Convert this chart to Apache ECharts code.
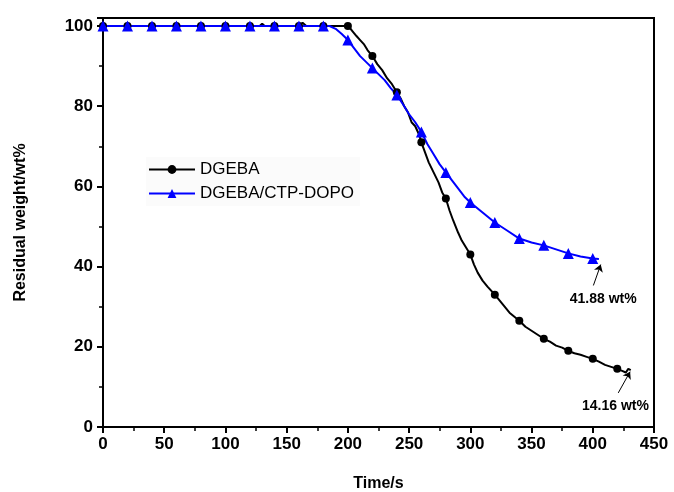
<!DOCTYPE html>
<html>
<head>
<meta charset="utf-8">
<script src="https://cdn.jsdelivr.net/npm/echarts@6/dist/echarts.min.js"></script>
<style>
html,body{margin:0;padding:0;background:#fff;}
#chart{width:674px;height:492px;}
</style>
</head>
<body>
<div id="chart"></div>
<script>
// ---- Data ----
var seriesNames = ['DGEBA', 'DGEBA/CTP-DOPO'];

var dgebaX = [0, 20, 40, 60, 80, 100, 120, 128, 130, 132, 140, 160, 163, 166, 180, 200, 203, 207, 210, 213, 216, 220, 224, 228, 232, 236, 240, 243, 246, 249, 252, 255, 258, 260, 263, 266, 270, 274, 277, 280, 283, 286, 290, 293, 297, 300, 303, 306, 310, 314, 317, 320, 324, 328, 332, 336, 340, 345, 350, 355, 360, 365, 370, 375, 380, 385, 390, 395, 400, 405, 410, 415, 420, 424, 427, 429, 431];
var dgebaY = [100, 100, 100, 100, 100, 100, 100, 100, 100.6, 100, 100, 100, 100.8, 100, 100, 100, 99, 97.5, 96.5, 95.5, 94, 92.5, 90.5, 89, 87, 85.5, 83.5, 82, 80, 78.5, 76, 75, 73, 71, 68.5, 66, 63.5, 61, 58.5, 57, 54, 51.5, 48.5, 46.5, 44.5, 43, 40.5, 38.5, 36.5, 35, 34, 33, 31.5, 30, 28.5, 27.5, 26.5, 25, 24, 23, 22, 21.3, 20.3, 19.8, 19, 18.4, 18, 17.5, 17, 16.3, 15.5, 15, 14.5, 14, 13.6, 14.5, 14.16];

var dopoX = [0, 20, 40, 60, 80, 100, 120, 140, 160, 180, 185, 190, 195, 200, 205, 210, 215, 220, 225, 230, 235, 240, 245, 250, 255, 260, 265, 270, 275, 280, 285, 290, 295, 300, 310, 320, 330, 340, 350, 360, 370, 380, 390, 400, 405];
var dopoY = [100, 100, 100, 100, 100, 100, 100, 100, 100, 100, 100, 99.3, 98, 96.5, 94.5, 92.5, 91, 89.5, 88, 86.5, 84.5, 82.8, 80.5, 78, 76, 73.6, 70.5, 68, 65.5, 63.5, 61.5, 59.5, 57.5, 56, 53.5, 51, 49, 47, 46, 45.3, 44.3, 43.3, 42.5, 42, 41.88];

var xTicks = {min: 0, max: 450, step: 50};
var yTicks = {min: 0, max: 102, step: 20};

var annotations = [
  {text: '41.88 wt%', at: [408.5, 32], from: [400.5, 35.3], to: [406.5, 40.5]},
  {text: '14.16 wt%', at: [418.5, 5.2], from: [420.8, 8.5], to: [430.5, 13.8]}
];

// ---- Chart ----
var FONT = '"Liberation Sans", Arial, sans-serif';
function build(xs, ys) {
  return xs.map(function (x, i) {
    var item = {value: [x, ys[i]]};
    if (x % 20 !== 0) { item.symbol = 'none'; }
    return item;
  });
}

var chart = echarts.init(document.getElementById('chart'), null, {renderer: 'canvas'});
var option = {
  animation: false,
  backgroundColor: '#fff',
  grid: {left: 103, right: 20, top: 18, bottom: 65, containLabel: false, outerBoundsMode: 'none',
    show: true, borderColor: '#000', borderWidth: 2, backgroundColor: 'transparent'},
  legend: {
    left: 146, top: 157, orient: 'vertical', itemGap: 7,
    itemWidth: 46, itemHeight: 11,
    backgroundColor: '#fbfbfb', padding: [4, 6, 4, 2],
    textStyle: {fontFamily: FONT, fontSize: 17, color: '#000'},
    data: seriesNames
  },
  xAxis: {
    type: 'value', min: xTicks.min, max: xTicks.max, interval: xTicks.step,
    name: 'Time/s', nameLocation: 'middle', nameGap: 49,
    nameTextStyle: {fontFamily: FONT, fontSize: 16, fontWeight: 'bold', color: '#000'},
    axisLine: {onZero: false, lineStyle: {color: '#000', width: 2}},
    axisTick: {length: 6, lineStyle: {color: '#000', width: 2}},
    minorTick: {show: true, splitNumber: 2, length: 4, lineStyle: {color: '#000', width: 1.5}},
    splitLine: {show: false},
    axisLabel: {fontFamily: FONT, fontSize: 17, fontWeight: 'bold', color: '#000', margin: 9}
  },
  yAxis: {
    type: 'value', min: yTicks.min, max: yTicks.max, interval: yTicks.step,
    name: 'Residual weight/wt%', nameLocation: 'middle', nameGap: 74,
    nameTextStyle: {fontFamily: FONT, fontSize: 16, fontWeight: 'bold', color: '#000'},
    axisLine: {onZero: false, lineStyle: {color: '#000', width: 2}},
    axisTick: {length: 6, lineStyle: {color: '#000', width: 2}},
    minorTick: {show: true, splitNumber: 2, length: 4, lineStyle: {color: '#000', width: 1.5}},
    splitLine: {show: false},
    axisLabel: {fontFamily: FONT, fontSize: 17, fontWeight: 'bold', color: '#000', margin: 10, showMaxLabel: false}
  },
  series: [
    {
      name: seriesNames[0], type: 'line', data: build(dgebaX, dgebaY),
      symbol: 'circle', symbolSize: 8, showAllSymbol: true,
      lineStyle: {color: '#000', width: 2}, itemStyle: {color: '#000'},
      markLine: {
        silent: true, symbol: ['none', 'arrow'], symbolSize: 7,
        lineStyle: {color: '#000', width: 1, type: 'solid'}, label: {show: false},
        data: annotations.map(function (a) { return [{coord: a.from}, {coord: a.to}]; })
      },
      markPoint: {
        silent: true, symbol: 'circle', symbolSize: 1, itemStyle: {color: 'rgba(0,0,0,0)'},
        label: {show: true, position: 'inside', fontFamily: FONT, fontSize: 14, fontWeight: 'bold', color: '#000'},
        data: annotations.map(function (a) { return {coord: a.at, value: a.text, label: {formatter: a.text}}; })
      }
    },
    {
      name: seriesNames[1], type: 'line', data: build(dopoX, dopoY),
      symbol: 'triangle', symbolSize: 11, showAllSymbol: true,
      lineStyle: {color: '#0000ff', width: 2}, itemStyle: {color: '#0000ff'}
    }
  ]
};
chart.setOption(option);
</script>
</body>
</html>
